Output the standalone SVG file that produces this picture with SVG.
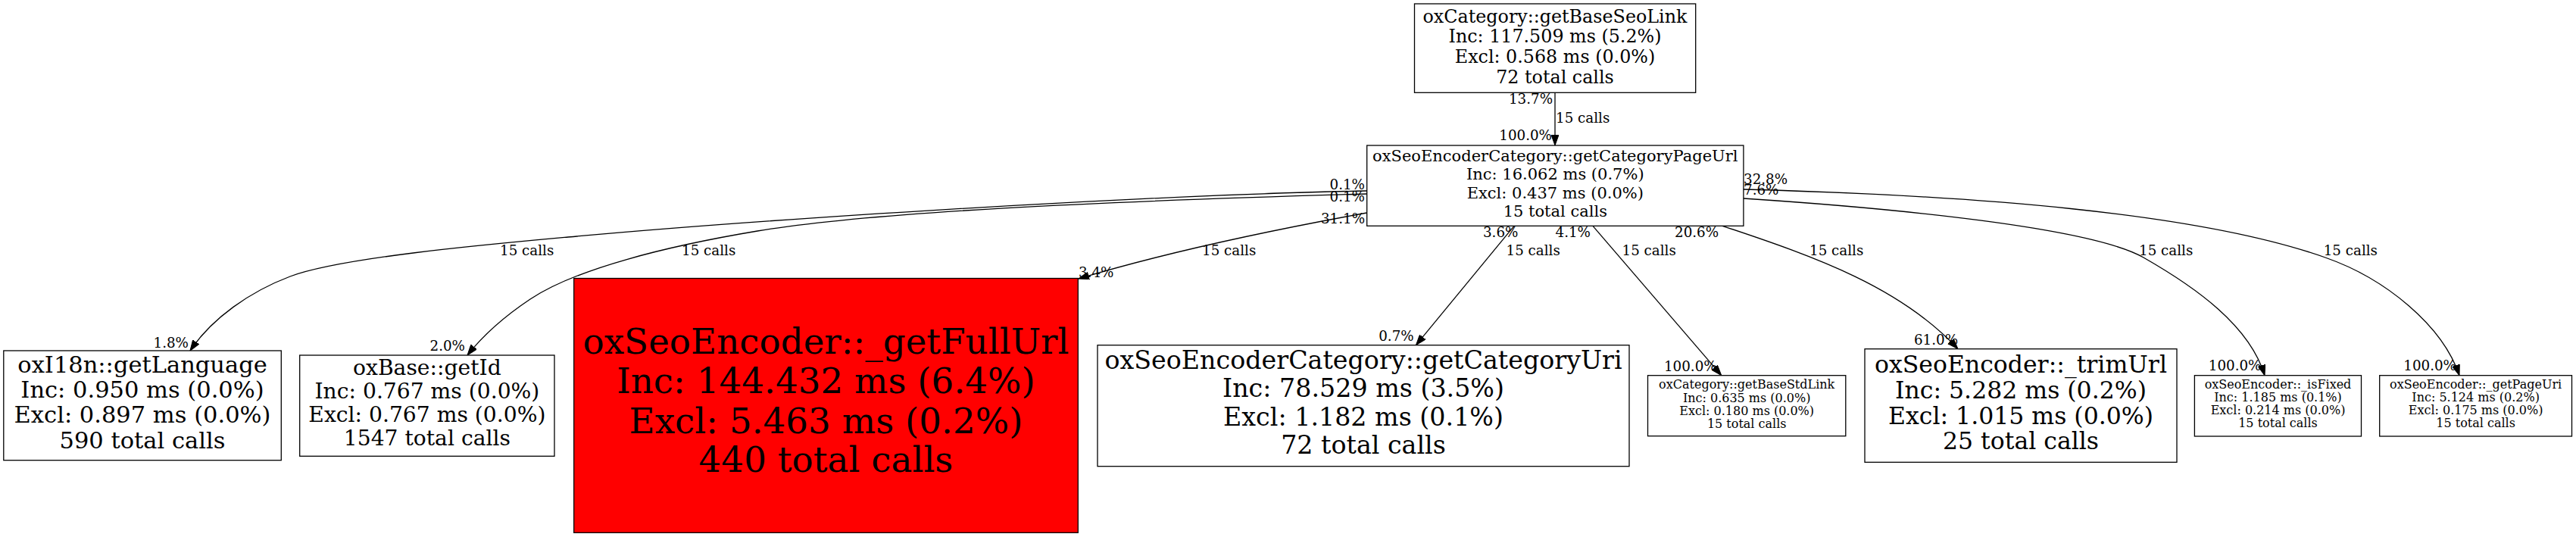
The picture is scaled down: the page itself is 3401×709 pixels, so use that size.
<svg xmlns="http://www.w3.org/2000/svg" width="3401" height="709" viewBox="0 0 3401 709">
<style>
text{font-family:"DejaVu Serif",serif;fill:#000;text-anchor:middle}
.n rect{fill:#fff;stroke:#000;stroke-width:1.3}
.n rect.hot{fill:#ff0000}
.e path{fill:none;stroke:#000;stroke-width:1.3;marker-end:url(#ah)}
.l text{font-size:18.3px}
.l .s{text-anchor:start}
.l .en{text-anchor:end}
</style>
<defs>
<marker id="ah" viewBox="0 0 14 10" refX="14" refY="5" markerWidth="14" markerHeight="10" markerUnits="userSpaceOnUse" orient="auto">
<path d="M0,0 L14,5 L0,10 z" fill="#000" stroke="#000" stroke-width="1"/>
</marker>
</defs>
<rect x="0" y="0" width="3401" height="709" fill="#fff"/>
<g id="connectors" class="e">
<path d="M2053,122.3 L2053,192"/>
<path d="M1804.5,252 C1500,258 1000,290 750,313 C640,323 450,340 383,365 C330,385 280,420 251,463"/>
<path d="M1804.5,256 C1450,266 1150,280 1000,305 C880,325 760,355 700,395 C670,415 640,440 617,469"/>
<path d="M1804.5,281 C1700,300 1550,330 1424,368"/>
<path d="M1999,298.3 L1869.5,455.7"/>
<path d="M2103,298.3 L2272.7,495.7"/>
<path d="M2274,298.3 C2400,340 2510,380 2585,460.7"/>
<path d="M2302,262 C2500,275 2760,300 2830,340 C2900,380 2970,430 2990,495.7"/>
<path d="M2302,250 C2600,258 2900,280 3070,340 C3150,368 3225,430 3247,495.7"/>
</g>
<g id="edge-labels" class="l">
<text class="en" x="2050" y="137.3">13.7%</text>
<text class="s" x="2054" y="161.7">15 calls</text>
<text class="en" x="2049" y="185">100.0%</text>
<text class="en" x="1802" y="250">0.1%</text>
<text class="en" x="1802" y="265.7">0.1%</text>
<text class="en" x="1802" y="295">31.1%</text>
<text class="s" x="660" y="337.3">15 calls</text>
<text class="en" x="249" y="459.3">1.8%</text>
<text class="s" x="900" y="337.3">15 calls</text>
<text class="en" x="614" y="463.3">2.0%</text>
<text class="s" x="1587" y="337.3">15 calls</text>
<text class="s" x="1424" y="365.7">3.4%</text>
<text class="en" x="2004.4" y="313.3">3.6%</text>
<text class="s" x="1988.5" y="337.3">15 calls</text>
<text class="en" x="1866.7" y="450">0.7%</text>
<text class="s" x="2053.5" y="313.3">4.1%</text>
<text class="s" x="2141.5" y="337.3">15 calls</text>
<text class="en" x="2266.7" y="490">100.0%</text>
<text class="s" x="2211" y="313.3">20.6%</text>
<text class="s" x="2389" y="337.3">15 calls</text>
<text class="en" x="2585" y="455">61.0%</text>
<text class="s" x="2302" y="243.3">32.8%</text>
<text class="s" x="2302" y="256.7">7.6%</text>
<text class="s" x="2824" y="337.3">15 calls</text>
<text class="en" x="2985.5" y="489.3">100.0%</text>
<text class="s" x="3067.7" y="337.3">15 calls</text>
<text class="en" x="3243" y="489.3">100.0%</text>
</g>
<g id="node-getBaseSeoLink" class="n">
<rect x="1867.5" y="5" width="371.2" height="117.3"/>
<g font-size="23.8">
<text x="2053" y="29.5">oxCategory::getBaseSeoLink</text>
<text x="2053" y="56.2">Inc: 117.509 ms (5.2%)</text>
<text x="2053" y="82.9">Excl: 0.568 ms (0.0%)</text>
<text x="2053" y="109.6">72 total calls</text>
</g>
</g>
<g id="node-getCategoryPageUrl" class="n">
<rect x="1804.7" y="192" width="497.2" height="106.3"/>
<g font-size="21">
<text x="2053.3" y="213.3">oxSeoEncoderCategory::getCategoryPageUrl</text>
<text x="2053.3" y="237.3">Inc: 16.062 ms (0.7%)</text>
<text x="2053.3" y="261.5">Excl: 0.437 ms (0.0%)</text>
<text x="2053.3" y="285.7">15 total calls</text>
</g>
</g>
<g id="node-getLanguage" class="n">
<rect x="4.8" y="463" width="366.5" height="144.7"/>
<g font-size="30.5">
<text x="188" y="491.7">oxI18n::getLanguage</text>
<text x="188" y="525">Inc: 0.950 ms (0.0%)</text>
<text x="188" y="558.3">Excl: 0.897 ms (0.0%)</text>
<text x="188" y="591.7">590 total calls</text>
</g>
</g>
<g id="node-getId" class="n">
<rect x="395.7" y="469" width="336.3" height="133.3"/>
<g font-size="28.2">
<text x="563.9" y="495">oxBase::getId</text>
<text x="563.9" y="526.1">Inc: 0.767 ms (0.0%)</text>
<text x="563.9" y="557.2">Excl: 0.767 ms (0.0%)</text>
<text x="563.9" y="588.3">1547 total calls</text>
</g>
</g>
<g id="node-getFullUrl" class="n">
<rect class="hot" x="757.7" y="367.5" width="665.6" height="335.8"/>
<g font-size="46.8">
<text x="1090.5" y="467.3">oxSeoEncoder::_getFullUrl</text>
<text x="1090.5" y="519.3">Inc: 144.432 ms (6.4%)</text>
<text x="1090.5" y="571.5">Excl: 5.463 ms (0.2%)</text>
<text x="1090.5" y="623.3">440 total calls</text>
</g>
</g>
<g id="node-getCategoryUri" class="n">
<rect x="1449" y="455.7" width="702" height="160"/>
<g font-size="33.3">
<text x="1800" y="487">oxSeoEncoderCategory::getCategoryUri</text>
<text x="1800" y="524.3">Inc: 78.529 ms (3.5%)</text>
<text x="1800" y="561.6">Excl: 1.182 ms (0.1%)</text>
<text x="1800" y="598.9">72 total calls</text>
</g>
</g>
<g id="node-getBaseStdLink" class="n">
<rect x="2175.5" y="495.7" width="261.3" height="80"/>
<g font-size="16">
<text x="2306.2" y="513.3">oxCategory::getBaseStdLink</text>
<text x="2306.2" y="530.5">Inc: 0.635 ms (0.0%)</text>
<text x="2306.2" y="547.7">Excl: 0.180 ms (0.0%)</text>
<text x="2306.2" y="564.9">15 total calls</text>
</g>
</g>
<g id="node-trimUrl" class="n">
<rect x="2462" y="460.7" width="412" height="149.6"/>
<g font-size="31.5">
<text x="2668" y="491.7">oxSeoEncoder::_trimUrl</text>
<text x="2668" y="525.6">Inc: 5.282 ms (0.2%)</text>
<text x="2668" y="559.5">Excl: 1.015 ms (0.0%)</text>
<text x="2668" y="593.4">25 total calls</text>
</g>
</g>
<g id="node-isFixed" class="n">
<rect x="2897.4" y="495.7" width="220.1" height="80.3"/>
<g font-size="16">
<text x="3007.5" y="513.3">oxSeoEncoder::_isFixed</text>
<text x="3007.5" y="530.3">Inc: 1.185 ms (0.1%)</text>
<text x="3007.5" y="547.3">Excl: 0.214 ms (0.0%)</text>
<text x="3007.5" y="564.3">15 total calls</text>
</g>
</g>
<g id="node-getPageUri" class="n">
<rect x="3141.7" y="495.7" width="253.8" height="80.3"/>
<g font-size="16">
<text x="3268.6" y="513.3">oxSeoEncoder::_getPageUri</text>
<text x="3268.6" y="530.3">Inc: 5.124 ms (0.2%)</text>
<text x="3268.6" y="547.3">Excl: 0.175 ms (0.0%)</text>
<text x="3268.6" y="564.3">15 total calls</text>
</g>
</g>
</svg>
